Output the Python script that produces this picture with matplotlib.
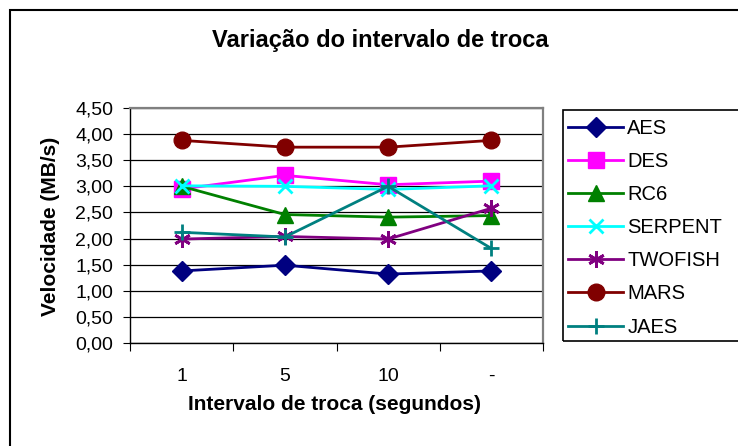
import matplotlib
matplotlib.use("Agg")
import matplotlib.pyplot as plt
from matplotlib.patches import Rectangle

plt.rcParams['font.family'] = ['Liberation Sans', 'DejaVu Sans']

# data
categories = ['1', '5', '10', '-']
aes = [1.38, 1.49, 1.32, 1.38]
des = [2.95, 3.21, 3.03, 3.10]
rc6 = [3.00, 2.46, 2.41, 2.44]
serpent = [3.01, 3.00, 2.94, 3.01]
twofish = [1.99, 2.04, 1.99, 2.58]
mars = [3.88, 3.75, 3.75, 3.88]
jaes = [2.12, 2.03, 3.00, 1.81]

series = [
    ('AES', aes, '#000080', 'D', 10),
    ('DES', des, '#FF00FF', 's', 11),
    ('RC6', rc6, '#008000', '^', 12),
    ('SERPENT', serpent, '#00FFFF', 'x', 10),
    ('TWOFISH', twofish, '#800080', (6, 2, 0), 12),
    ('MARS', mars, '#800000', 'o', 12),
    ('JAES', jaes, '#008080', '+', 12),
]

W, H = 738, 446
fig = plt.figure(figsize=(W / 100, H / 100), dpi=100)
ax = fig.add_axes([130 / W, 1 - 343 / H, 413 / W, 235 / H])

x = range(len(categories))
for name, vals, col, mk, ms in series:
    mew = 2 if mk in ('x', '+') or isinstance(mk, tuple) else 1
    ax.plot(x, vals, color=col, lw=2, marker=mk, markersize=ms,
            markeredgewidth=mew, markerfacecolor=col, markeredgecolor=col, label=name)

ax.set_xlim(-0.5, 3.5)
ax.set_ylim(0, 4.5)
yt = [i * 0.5 for i in range(10)]
ax.set_yticks(yt)
ax.set_yticklabels([f'{v:.2f}'.replace('.', ',') for v in yt], fontsize=14)
ax.set_xticks([-0.5, 0.5, 1.5, 2.5, 3.5])
ax.set_xticklabels([])
ax.set_xticks(list(x), minor=True)
ax.set_xticklabels(categories, minor=True, fontsize=14)
ax.tick_params(axis='x', which='minor', length=0, pad=18)
ax.tick_params(axis='x', which='major', length=6, direction='out')
ax.tick_params(axis='y', length=5, direction='out', pad=7)
ax.grid(axis='y', color='black', lw=0.9)
ax.set_axisbelow(True)

for side in ('top', 'right'):
    ax.spines[side].set_color('#808080')
    ax.spines[side].set_linewidth(1.6)
for side in ('left', 'bottom'):
    ax.spines[side].set_color('black')
    ax.spines[side].set_linewidth(1)

fig.text(51 / W, 1 - 226 / H, 'Velocidade (MB/s)', rotation=90, ha='center', va='center',
         fontsize=15, fontweight='bold')
fig.text(335 / W, 1 - 405 / H, 'Intervalo de troca (segundos)', ha='center', va='center',
         fontsize=15, fontweight='bold')
fig.text(380 / W, 1 - 40 / H, 'Variação do intervalo de troca', ha='center', va='center',
         fontsize=17, fontweight='bold')

leg = ax.legend(loc='upper left', bbox_to_anchor=(568 / W, 1 - 119 / H), bbox_transform=fig.transFigure,
                fontsize=14.5, frameon=False, borderpad=0, labelspacing=0.7,
                handlelength=2.75, handletextpad=0.2, borderaxespad=0)

# legend frame runs past the right edge, like the cropped original
fig.patches.append(Rectangle((563 / W, 1 - 341 / H), 0.5, 231 / H, transform=fig.transFigure,
                             fill=False, edgecolor='black', lw=1.2))
# outer chart border, cropped at right and bottom
fig.patches.append(Rectangle((10 / W, -0.5), 1.5, 1.5 - 10 / H, transform=fig.transFigure,
                             fill=False, edgecolor='black', lw=1.5))

fig.savefig('out.png', dpi=100)
